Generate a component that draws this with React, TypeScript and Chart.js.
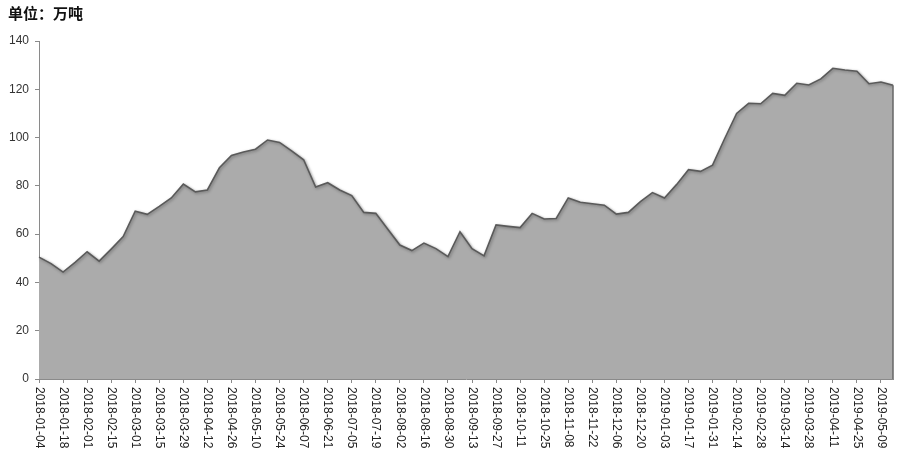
import React, { useEffect, useRef } from 'react';
import { Chart, registerables } from 'chart.js';

Chart.register(...registerables);

const unitTitle = '单位：万吨';

const categories: string[] = [
  '2018-01-04', '2018-01-11', '2018-01-18', '2018-01-25',
  '2018-02-01', '2018-02-08', '2018-02-15', '2018-02-22',
  '2018-03-01', '2018-03-08', '2018-03-15', '2018-03-22', '2018-03-29',
  '2018-04-05', '2018-04-12', '2018-04-19', '2018-04-26',
  '2018-05-03', '2018-05-10', '2018-05-17', '2018-05-24', '2018-05-31',
  '2018-06-07', '2018-06-14', '2018-06-21', '2018-06-28',
  '2018-07-05', '2018-07-12', '2018-07-19', '2018-07-26',
  '2018-08-02', '2018-08-09', '2018-08-16', '2018-08-23', '2018-08-30',
  '2018-09-06', '2018-09-13', '2018-09-20', '2018-09-27',
  '2018-10-04', '2018-10-11', '2018-10-18', '2018-10-25',
  '2018-11-01', '2018-11-08', '2018-11-15', '2018-11-22', '2018-11-29',
  '2018-12-06', '2018-12-13', '2018-12-20', '2018-12-27',
  '2019-01-03', '2019-01-10', '2019-01-17', '2019-01-24', '2019-01-31',
  '2019-02-07', '2019-02-14', '2019-02-21', '2019-02-28',
  '2019-03-07', '2019-03-14', '2019-03-21', '2019-03-28',
  '2019-04-04', '2019-04-11', '2019-04-18', '2019-04-25',
  '2019-05-02', '2019-05-09', '2019-05-16',
];

const stockValues: number[] = [
  50.5, 47.8, 44.3, 48.3, 52.7, 48.8, 53.8, 59.0, 69.5, 68.2,
  71.5, 75.0, 80.7, 77.5, 78.3, 87.5, 92.6, 94.0, 95.2, 99.0,
  98.0, 94.5, 90.8, 79.5, 81.3, 78.3, 76.0, 69.0, 68.6, 62.0,
  55.5, 53.2, 56.3, 54.0, 50.7, 61.0, 54.0, 51.0, 63.8, 63.2,
  62.7, 68.6, 66.3, 66.5, 75.0, 73.2, 72.6, 72.0, 68.3, 69.0,
  73.5, 77.2, 75.0, 80.5, 86.7, 86.0, 88.6, 99.5, 110.0, 114.2,
  114.0, 118.3, 117.5, 122.5, 121.8, 124.3, 128.7, 128.0, 127.5, 122.3,
  123.0, 121.7,
];

const yMin = 0;
const yMax = 140;
const yStep = 20;

const FONT = '"Liberation Sans", Arial, sans-serif';

const decorPlugin = {
  id: 'decor',
  beforeDatasetsDraw(chart: any) {
    const c = chart.ctx;
    c.save();
    c.shadowColor = 'rgba(0,0,0,0.35)';
    c.shadowBlur = 3;
    c.shadowOffsetX = 1;
    c.shadowOffsetY = 1;
  },
  afterDatasetsDraw(chart: any) {
    const c = chart.ctx;
    c.restore();
    // right edge of the area
    const meta = chart.getDatasetMeta(0);
    const last = meta.data[meta.data.length - 1];
    const ys = chart.scales.y;
    c.save();
    c.strokeStyle = '#666';
    c.lineWidth = 1.5;
    c.beginPath();
    c.moveTo(last.x, last.y);
    c.lineTo(last.x, ys.getPixelForValue(0));
    c.stroke();
    c.restore();
  },
  afterDraw(chart: any) {
    const c = chart.ctx;
    const xs = chart.scales.x;
    const bottom = chart.chartArea.bottom;
    c.save();
    c.font = '12px ' + FONT;
    c.fillStyle = '#222';
    c.textAlign = 'left';
    c.textBaseline = 'middle';
    categories.forEach((lab, i) => {
      if (i % 2 !== 0) return;
      const x = xs.getPixelForValue(i);
      c.save();
      c.translate(x, bottom + 8);
      c.rotate(Math.PI / 2);
      c.fillText(lab, 0, 0);
      c.restore();
    });
    c.restore();
  },
};

export default function App() {
  const ref = useRef<HTMLCanvasElement | null>(null);

  useEffect(() => {
    document.body.style.margin = '0';
    const canvas = ref.current;
    if (!canvas) return;
    const chart = new Chart(canvas, {
      type: 'line',
      data: {
        labels: categories,
        datasets: [
          {
            data: stockValues,
            fill: 'origin',
            backgroundColor: '#ababab',
            borderColor: '#5a5a5a',
            borderWidth: 1.6,
            pointRadius: 0,
            tension: 0,
          },
        ],
      },
      options: {
        responsive: false,
        animation: false,
        layout: { padding: { top: 41, right: 7, left: 0, bottom: 0 } },
        plugins: {
          legend: { display: false },
          tooltip: { enabled: false },
          title: { display: false },
        },
        scales: {
          x: {
            type: 'category',
            offset: false,
            afterFit: (s: any) => {
              s.height = 75;
            },
            ticks: { display: false },
            grid: {
              display: true,
              drawOnChartArea: false,
              drawTicks: true,
              tickLength: 4,
              color: (ctx: any) => (ctx.index % 2 === 0 ? '#8a8a8a' : 'rgba(0,0,0,0)'),
            },
            border: { display: true, color: '#8a8a8a', width: 1 },
          },
          y: {
            min: yMin,
            max: yMax,
            afterFit: (s: any) => {
              s.width = 39;
            },
            ticks: {
              stepSize: yStep,
              padding: 6,
              color: '#333',
              font: { size: 12, family: FONT },
            },
            grid: {
              display: true,
              drawOnChartArea: false,
              drawTicks: true,
              tickLength: 4,
              color: '#8a8a8a',
            },
            border: { display: true, color: '#8a8a8a', width: 1 },
          },
        },
      },
      plugins: [decorPlugin],
    });
    return () => chart.destroy();
  }, []);

  return (
    <div style={{ position: 'fixed', left: 0, top: 0, width: 900, height: 454, background: '#fff' }}>
      <canvas ref={ref} width={900} height={454} style={{ display: 'block' }} />
      <div
        style={{
          position: 'absolute',
          left: 8,
          top: 3,
          fontFamily: '"Noto Sans CJK SC", sans-serif',
          fontWeight: 700,
          fontSize: 15,
          color: '#111',
          lineHeight: '20px',
        }}
      >
        {unitTitle}
      </div>
    </div>
  );
}
